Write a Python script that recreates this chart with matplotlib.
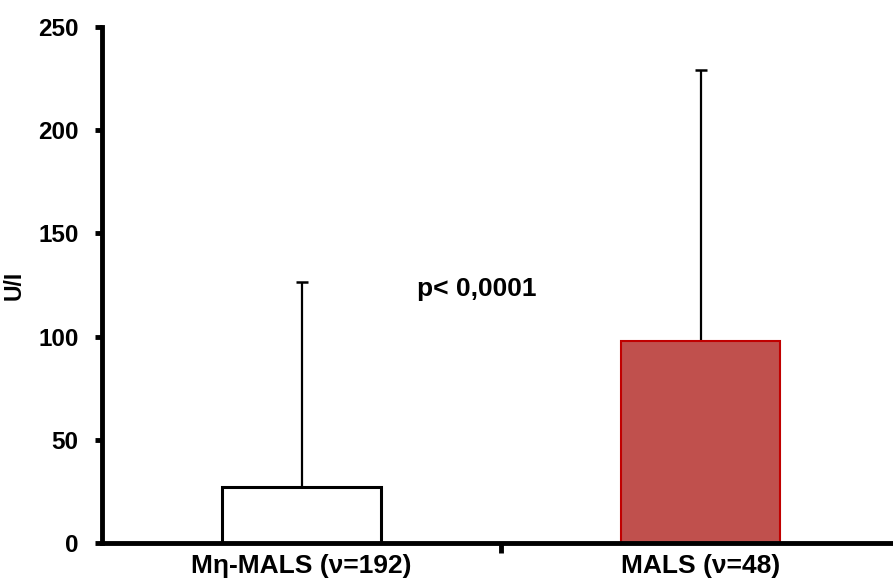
import matplotlib.pyplot as plt
from matplotlib import font_manager

categories = ["Mη-MALS (ν=192)", "MALS (ν=48)"]
means = [27, 98]
sd_upper = [99.5, 131]
fills = ["white", "#C0504D"]
edges = ["black", "#C00000"]
p_text = "p< 0,0001"

# pick the regular-width Liberation Sans Bold (not the Narrow one)
bold_path = None
for f in font_manager.fontManager.ttflist:
    if f.fname.endswith("LiberationSans-Bold.ttf"):
        bold_path = f.fname


def bold(size):
    if bold_path:
        return font_manager.FontProperties(fname=bold_path, size=size)
    return font_manager.FontProperties(family="DejaVu Sans", weight="bold", size=size)


fig = plt.figure(figsize=(8.93, 5.85), dpi=100)
ax = fig.add_axes([102 / 893, 42 / 585, 798 / 893, 516 / 585])

x = [0, 1]
ax.bar(x, means, width=0.4, color=fills, edgecolor=edges, linewidth=[2.2, 1.5], zorder=2)
ax.errorbar(x, means, yerr=[[0, 0], sd_upper], fmt="none", ecolor="black",
            elinewidth=1.6, capsize=4.5, capthick=1.8, zorder=1)

ax.set_xlim(-0.5, 1.5)
ax.set_ylim(0, 250)
ax.set_yticks(range(0, 251, 50))
ax.set_xticks([0.5])
ax.set_xticklabels([""])
ax.set_xticks(x, minor=True)
ax.set_xticklabels(categories, minor=True, fontproperties=bold(19))
for lab in ax.get_yticklabels():
    lab.set_fontproperties(bold(17.5))
ax.tick_params(axis="x", which="minor", length=0, pad=8)
ax.tick_params(axis="x", which="major", length=7, width=3.5, direction="out")
ax.tick_params(axis="y", length=5, width=3.5, pad=12)

for s in ["top", "right"]:
    ax.spines[s].set_visible(False)
ax.spines["left"].set_linewidth(3.5)
ax.spines["bottom"].set_linewidth(3.5)

ax.set_ylabel("U/I", fontproperties=bold(16.5), labelpad=9)
ax.text(0.29, 123, p_text, fontproperties=bold(19), va="center", ha="left")

fig.savefig("out.png", dpi=100)
